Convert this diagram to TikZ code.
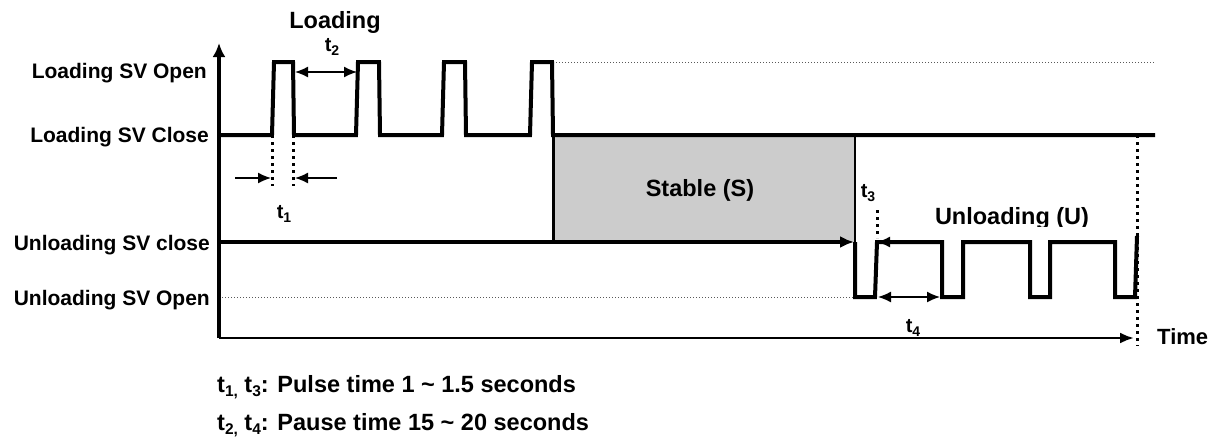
\documentclass[tikz,border=0pt]{standalone}
\usepackage{fontspec}
\setmainfont{Liberation Sans}
\usetikzlibrary{arrows.meta}
\newcommand{\tsub}[1]{\raisebox{-4.5pt}{\fontsize{15.5}{15.5}\selectfont #1}}
\newcommand{\tsubs}[1]{\raisebox{-4pt}{\fontsize{14}{14}\selectfont #1}}
\begin{document}
\begin{tikzpicture}[x=1pt,y=-1pt,
  font=\fontsize{23.5}{26}\selectfont\bfseries,
  sig/.style={line width=4pt},
  yaxis/.style={line width=4pt,-{Latex[length=14pt,width=13pt]}},
  taxis/.style={line width=2.5pt,-{Latex[length=14pt,width=11pt]}},
  edge/.style={line width=3pt},
  dotgray/.style={gray!70!black,line width=1pt,dash pattern=on 1pt off 2pt},
  dotblk/.style={line width=3pt,dash pattern=on 3pt off 4pt},
  meas/.style={line width=1.5pt,-{Latex[length=13pt,width=11pt]}},
  dmeas/.style={line width=1.5pt,{Latex[length=13pt,width=11pt]}-{Latex[length=13pt,width=11pt]}},
  lbl/.style={inner sep=0pt},
  tl/.style={lbl,anchor=base,font=\fontsize{20}{22}\selectfont\bfseries},
  side/.style={lbl,anchor=base east,font=\fontsize{21}{24}\selectfont\bfseries}]
\useasboundingbox (0,0) rectangle (1212,445);

% key coordinates
\coordinate (O) at (219,338);
\coordinate (Ytop) at (219,43);
\coordinate (Tend) at (1134,338);
\coordinate (S1) at (553,135);
\coordinate (S2) at (855,242);

% stable region
\fill[gray!40] (S1) rectangle (S2);

% gray dotted reference lines
\coordinate (g1a) at (553,62);
\coordinate (g1b) at (1155,62);
\coordinate (g2a) at (219,297);
\coordinate (g2b) at (855,297);
\draw[dotgray] (g1a) -- (g1b);
\draw[dotgray] (g2a) -- (g2b);

% axes
\draw[yaxis] (O) -- (Ytop);
\draw[taxis] (O) -- (Tend);

% loading signal
\draw[sig] (219,135) -- (272,135) -- (274,62) -- (293,62) -- (294,135)
  -- (356,135) -- (358,62) -- (379,62) -- (380,135)
  -- (442,135) -- (444,62) -- (465,62) -- (466,135)
  -- (530,135) -- (532,62) -- (552,62) -- (553,135) -- (1155,135);

% stable box edges
\draw[edge] (S1) -- (553,242);
\draw[line width=2pt] (855,135) -- (855,242);

% unloading close line with arrow
\coordinate (u0) at (219,242);
\coordinate (u1) at (854,242);
\draw[sig,-{Latex[length=14pt,width=12pt]}] (u0) -- (u1);

% unloading signal
\draw[sig] (855,242) -- (855,297) -- (875,297) -- (877,242) -- (942,242)
  -- (942,297) -- (963,297) -- (963,242) -- (1030,242)
  -- (1030,297) -- (1050,297) -- (1050,242) -- (1115,242)
  -- (1115,297) -- (1135,297) -- (1137,236);

% t1 markers
\coordinate (d1a) at (272,135); \coordinate (d1b) at (272,186);
\coordinate (d2a) at (293,135); \coordinate (d2b) at (293,186);
\draw[dotblk] (d1a) -- (d1b);
\draw[dotblk] (d2a) -- (d2b);
\coordinate (a1s) at (235,178); \coordinate (a1e) at (271,178);
\coordinate (a2s) at (337,178); \coordinate (a2e) at (295,178);
\draw[meas] (a1s) -- (a1e);
\draw[meas] (a2s) -- (a2e);

% t2 arrow
\coordinate (t2a) at (295,72); \coordinate (t2b) at (357,72);
\draw[dmeas] (t2a) -- (t2b);

% t3 marker
\coordinate (d3a) at (877,210); \coordinate (d3b) at (877,238);
\draw[dotblk] (d3a) -- (d3b);
\coordinate (a3s) at (893,242); \coordinate (a3e) at (877,242);
\draw[meas] (a3s) -- (a3e);

% t4 arrow
\coordinate (t4a) at (878,297); \coordinate (t4b) at (940,297);
\draw[dmeas] (t4a) -- (t4b);

% end dotted line
\coordinate (e1) at (1137,135); \coordinate (e2) at (1137,346);
\draw[dotblk] (e1) -- (e2);

% labels
\node[side] (lo) at (207,78) {Loading SV Open};
\node[side] (lc) at (209,142) {Loading SV Close};
\node[side] (uc) at (210,250) {Unloading SV close};
\node[side] (uo) at (210,305) {Unloading SV Open};
\node[lbl,anchor=base] (load) at (335,28) {Loading};
\node[tl] (lt2) at (332,51) {t\tsubs{2}};
\node[tl] (lt1) at (284,218) {t\tsubs{1}};
\node[tl] (lt3) at (868,197) {t\tsubs{3}};
\node[tl] (lt4) at (913,332) {t\tsubs{4}};
\node[lbl] (stab) at (700,190) {Stable (S)};
\begin{scope}
\clip (900,195) rectangle (1120,226);
\node[lbl,anchor=base] (unl) at (1012,224) {Unloading (U)};
\end{scope}
\node[lbl,anchor=base west,font=\fontsize{22}{24}\selectfont\bfseries] (time) at (1157,344) {Time};
\node[lbl,anchor=base west] (f1) at (217,392) {t\tsub{1,} t\tsub{3}: Pulse time 1 \textasciitilde{} 1.5 seconds};
\node[lbl,anchor=base west] (f2) at (217,430) {t\tsub{2,} t\tsub{4}: Pause time 15 \textasciitilde{} 20 seconds};
\end{tikzpicture}
\end{document}
